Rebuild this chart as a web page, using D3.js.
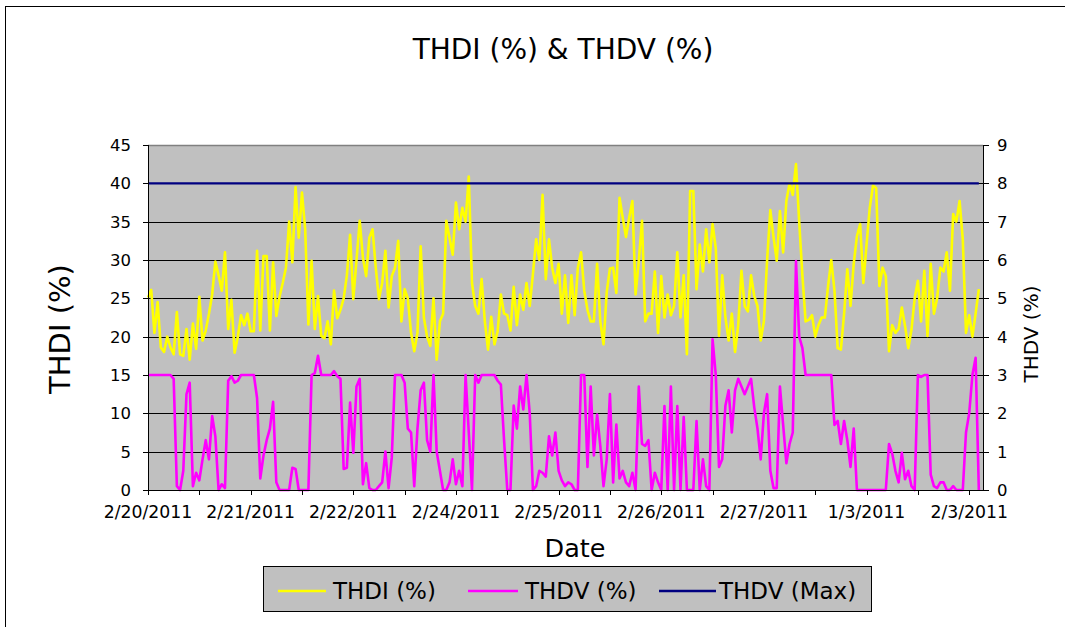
<!DOCTYPE html>
<html>
<head>
<meta charset="utf-8">
<script src="https://cdn.jsdelivr.net/npm/d3@7"></script>
<style>
  html, body { margin: 0; padding: 0; background: #fff; }
  svg { display: block; }
  text { font-family: "DejaVu Sans", Verdana, sans-serif; fill: #000; }
</style>
</head>
<body>
<div id="chart"></div>
<script>
// Total harmonic distortion readings, one value per sample
const thdi = [
  25.1, 26.1, 20.5, 24.5, 18.6, 18.0, 20.0, 18.6, 17.7, 23.2,
  17.7, 17.5, 21.0, 17.0, 21.7, 18.4, 25.2, 19.5, 20.8, 23.0,
  25.5, 29.8, 28.0, 26.0, 31.0, 21.0, 24.8, 17.9, 20.0, 22.8,
  21.5, 23.0, 20.7, 20.7, 31.2, 20.8, 30.5, 30.5, 20.8, 29.7,
  22.7, 25.2, 27.0, 29.0, 35.0, 29.7, 39.5, 32.9, 38.8, 34.0,
  21.6, 29.9, 21.0, 25.3, 20.1, 19.8, 22.0, 19.0, 26.0, 22.4,
  23.5, 25.0, 28.0, 33.3, 24.9, 30.0, 35.1, 30.3, 27.9, 32.9,
  34.0, 29.0, 24.9, 27.0, 31.2, 23.8, 27.9, 29.0, 32.5, 22.0,
  26.2, 25.0, 20.5, 18.1, 20.5, 31.8, 22.5, 20.0, 18.8, 25.0,
  17.0, 22.0, 23.0, 35.1, 32.9, 30.7, 37.5, 34.0, 36.8, 35.0,
  40.9, 27.0, 24.0, 23.0, 27.5, 22.0, 18.3, 22.6, 19.0, 20.7,
  25.5, 23.0, 22.8, 20.8, 26.5, 21.5, 25.5, 23.5, 27.0, 24.0,
  28.2, 32.7, 30.0, 38.5, 27.5, 32.7, 29.0, 27.0, 29.5, 23.0,
  28.0, 21.8, 28.0, 22.8, 29.0, 31.0, 26.0, 23.5, 22.0, 22.0,
  29.5, 22.0, 19.0, 25.8, 28.9, 29.0, 25.7, 38.1, 35.5, 33.0,
  35.5, 37.7, 25.5, 29.9, 35.1, 22.0, 23.0, 23.0, 28.5, 20.5,
  27.9, 22.5, 25.5, 22.8, 24.0, 31.0, 22.5, 28.0, 17.7, 39.0,
  39.0, 26.2, 32.0, 28.5, 34.0, 29.7, 34.7, 31.5, 20.1, 28.0,
  22.5, 19.5, 23.0, 18.0, 21.5, 28.6, 24.0, 23.3, 28.0, 25.3,
  24.0, 19.5, 22.0, 30.0, 36.5, 33.0, 29.9, 36.4, 31.0, 37.7,
  40.0, 38.5, 42.5, 35.0, 28.0, 22.0, 22.2, 22.8, 20.0, 21.5,
  22.5, 22.5, 26.6, 30.0, 26.0, 18.5, 18.3, 23.0, 28.8, 24.0,
  29.5, 33.1, 34.7, 27.0, 32.0, 36.8, 39.7, 39.4, 26.6, 29.0,
  27.9, 18.1, 21.5, 20.5, 21.0, 23.8, 21.4, 18.5, 20.9, 25.0,
  27.3, 22.0, 28.6, 20.1, 29.5, 23.0, 25.0, 29.0, 28.5, 31.0,
  26.0, 36.0, 35.0, 37.7, 32.7, 20.5, 22.8, 20.0, 23.0, 26.2
];

const thdv = [
  3.0, 3.0, 3.0, 3.0, 3.0, 3.0, 3.0, 3.0, 2.9, 0.1,
  0.0, 0.5, 2.5, 2.8, 0.1, 0.45, 0.25, 0.8, 1.3, 0.8,
  1.93, 1.4, 0.0, 0.15, 0.05, 2.85, 2.97, 2.8, 2.85, 3.0,
  3.0, 3.0, 3.0, 3.0, 2.4, 0.3, 0.9, 1.3, 1.6, 2.3,
  0.2, 0.0, 0.0, 0.0, 0.0, 0.58, 0.55, 0.0, 0.0, 0.0,
  0.0, 3.0, 3.05, 3.5, 3.0, 3.0, 3.0, 3.0, 3.1, 2.97,
  2.9, 0.55, 0.58, 2.28, 0.97, 2.7, 2.9, 0.15, 0.7, 0.05,
  0.0, 0.0, 0.1, 0.2, 1.0, 0.05, 0.85, 3.0, 3.0, 3.0,
  2.8, 1.6, 1.5, 0.1, 1.6, 2.6, 2.8, 1.3, 1.0, 3.0,
  1.0, 0.5, 0.0, 0.0, 0.2, 0.8, 0.15, 0.5, 0.1, 3.0,
  1.5, 0.0, 3.0, 2.8, 3.0, 3.0, 3.0, 3.0, 3.0, 2.85,
  2.75, 1.3, 0.0, 0.0, 2.2, 1.6, 2.7, 2.1, 3.0, 2.0,
  0.0, 0.1, 0.5, 0.45, 0.35, 1.4, 0.9, 1.5, 0.5, 0.25,
  0.1, 0.2, 0.15, 0.0, 0.0, 3.0, 3.0, 0.6, 2.7, 0.9,
  1.97, 1.15, 0.1, 0.8, 2.5, 0.2, 1.71, 0.3, 0.5, 0.2,
  0.1, 0.45, 0.0, 2.7, 1.2, 1.15, 1.3, 0.0, 0.45, 0.2,
  0.0, 2.19, 0.0, 2.7, 0.0, 2.19, 0.0, 1.9, 0.0, 0.0,
  0.0, 1.8, 0.0, 0.8, 0.1, 0.0, 3.93, 3.0, 0.6, 0.8,
  2.2, 2.6, 1.5, 2.6, 2.9, 2.7, 2.5, 2.7, 2.9, 2.15,
  1.6, 0.8, 2.0, 2.5, 0.5, 0.05, 0.05, 2.7, 1.7, 0.7,
  1.2, 1.5, 5.97, 4.0, 3.7, 3.0, 3.0, 3.0, 3.0, 3.0,
  3.0, 3.0, 3.0, 3.0, 1.7, 1.8, 1.2, 1.8, 1.3, 0.6,
  1.6, 0.0, 0.0, 0.0, 0.0, 0.0, 0.0, 0.0, 0.0, 0.0,
  0.0, 1.2, 0.95, 0.5, 0.2, 0.97, 0.28, 0.5, 0.1, 0.0,
  3.0, 2.95, 3.0, 3.0, 0.4, 0.1, 0.05, 0.2, 0.2, 0.0,
  0.0, 0.1, 0.0, 0.0, 0.0, 1.5, 2.0, 3.0, 3.45, 0.0
];

// Voltage distortion limit (secondary axis)
const thdvMax = 8;

// Category labels, one every labelEvery samples; tick marks every tickEvery samples
const dateLabels = ["2/20/2011", "2/21/2011", "2/22/2011", "2/24/2011", "2/25/2011",
                    "2/26/2011", "2/27/2011", "1/3/2011", "2/3/2011"];
const labelEvery = 32;
const tickEvery = 16;

const leftTicks = [0, 5, 10, 15, 20, 25, 30, 35, 40, 45];
const rightTicks = [0, 1, 2, 3, 4, 5, 6, 7, 8, 9];

const seriesNames = ["THDI (%)", "THDV (%)", "THDV (Max)"];
const seriesColors = ["#FFFF00", "#FF00FF", "#000080"];

// ---- layout ----
const W = 1065, H = 627;
const plot = { left: 148, right: 983, top: 145, bottom: 490 };
const slotSpan = 260.3; // category slots across the plot width

const svg = d3.select("#chart").append("svg")
  .attr("width", W).attr("height", H);

// outer chart border
svg.append("rect")
  .attr("x", 5.5).attr("y", 6.5).attr("width", 1100).attr("height", 700)
  .attr("fill", "#fff").attr("stroke", "#000").attr("stroke-width", 1);

const x = d3.scaleLinear().domain([0, slotSpan]).range([plot.left, plot.right]);
const yL = d3.scaleLinear().domain([0, 45]).range([plot.bottom, plot.top]);
const yR = d3.scaleLinear().domain([0, 9]).range([plot.bottom, plot.top]);

// plot area
svg.append("rect")
  .attr("x", plot.left).attr("y", plot.top)
  .attr("width", plot.right - plot.left).attr("height", plot.bottom - plot.top)
  .attr("fill", "#C0C0C0");

// horizontal gridlines
svg.append("g").selectAll("line")
  .data(leftTicks.filter(d => d > 0 && d < 45))
  .join("line")
  .attr("x1", plot.left).attr("x2", plot.right)
  .attr("y1", d => Math.round(yL(d)) + 0.5).attr("y2", d => Math.round(yL(d)) + 0.5)
  .attr("stroke", "#000").attr("stroke-width", 1);

// top border of plot area
svg.append("line")
  .attr("x1", plot.left).attr("x2", plot.right)
  .attr("y1", plot.top + 0.5).attr("y2", plot.top + 0.5)
  .attr("stroke", "#808080").attr("stroke-width", 1.5);

// series
const lineL = d3.line().x((d, i) => x(i)).y(d => yL(d));
const lineR = d3.line().x((d, i) => x(i)).y(d => yR(d));

svg.append("path").datum(thdi)
  .attr("d", lineL).attr("fill", "none")
  .attr("stroke", seriesColors[0]).attr("stroke-width", 2.6)
  .attr("stroke-linejoin", "round");

svg.append("path").datum(thdv)
  .attr("d", lineR).attr("fill", "none")
  .attr("stroke", seriesColors[1]).attr("stroke-width", 2.6)
  .attr("stroke-linejoin", "round");

svg.append("line")
  .attr("x1", x(0)).attr("x2", x(thdv.length - 1))
  .attr("y1", yR(thdvMax)).attr("y2", yR(thdvMax))
  .attr("stroke", seriesColors[2]).attr("stroke-width", 2.4);

// axes lines
const axisG = svg.append("g").attr("stroke", "#000").attr("stroke-width", 1);
axisG.append("line").attr("x1", plot.left + 0.5).attr("x2", plot.left + 0.5)
  .attr("y1", plot.top).attr("y2", plot.bottom + 5);
axisG.append("line").attr("x1", plot.right + 0.5).attr("x2", plot.right + 0.5)
  .attr("y1", plot.top).attr("y2", plot.bottom);
axisG.append("line").attr("x1", plot.left).attr("x2", plot.right + 1)
  .attr("y1", plot.bottom + 0.5).attr("y2", plot.bottom + 0.5);

// left ticks and labels
leftTicks.forEach(v => {
  const yy = Math.round(yL(v)) + 0.5;
  axisG.append("line").attr("x1", plot.left - 5).attr("x2", plot.left).attr("y1", yy).attr("y2", yy);
  svg.append("text").attr("x", 131).attr("y", yy).attr("dy", "0.36em")
    .attr("text-anchor", "end").attr("font-size", 16.5).text(v);
});

// right ticks and labels
rightTicks.forEach(v => {
  const yy = Math.round(yR(v)) + 0.5;
  axisG.append("line").attr("x1", plot.right).attr("x2", plot.right + 6).attr("y1", yy).attr("y2", yy);
  svg.append("text").attr("x", 997).attr("y", yy).attr("dy", "0.36em")
    .attr("text-anchor", "start").attr("font-size", 16.5).text(v);
});

// category ticks and labels
const tickIdx = d3.range(0, thdv.length, tickEvery);
tickIdx.forEach(i => {
  const xx = Math.round(x(i)) + 0.5;
  axisG.append("line").attr("x1", xx).attr("x2", xx).attr("y1", plot.bottom).attr("y2", plot.bottom + 5);
});
dateLabels.forEach((lab, k) => {
  svg.append("text").attr("x", x(k * labelEvery)).attr("y", 518)
    .attr("text-anchor", "middle").attr("font-size", 17.3).text(lab);
});

// titles
svg.append("text").attr("x", 563).attr("y", 59).attr("text-anchor", "middle")
  .attr("font-size", 28).text("THDI (%) & THDV (%)");
svg.append("text").attr("x", 575).attr("y", 557).attr("text-anchor", "middle")
  .attr("font-size", 25.5).text("Date");
svg.append("text").attr("transform", "translate(70,329) rotate(-90)")
  .attr("text-anchor", "middle").attr("font-size", 29).text("THDI (%)");
svg.append("text").attr("transform", "translate(1038,334) rotate(-90)")
  .attr("text-anchor", "middle").attr("font-size", 20).text("THDV (%)");

// legend
const legend = svg.append("g");
legend.append("rect").attr("x", 263.5).attr("y", 566.5).attr("width", 608).attr("height", 45)
  .attr("fill", "#C0C0C0").attr("stroke", "#000").attr("stroke-width", 1);
const legendItems = [
  { sx: 278, ex: 326, tx: 333 },
  { sx: 468, ex: 518, tx: 525 },
  { sx: 659, ex: 716, tx: 719 }
];
legendItems.forEach((it, k) => {
  legend.append("line").attr("x1", it.sx).attr("x2", it.ex).attr("y1", 591).attr("y2", 591)
    .attr("stroke", seriesColors[k]).attr("stroke-width", 2.4);
  legend.append("text").attr("x", it.tx).attr("y", 599).attr("font-size", 23).text(seriesNames[k]);
});
</script>
</body>
</html>
